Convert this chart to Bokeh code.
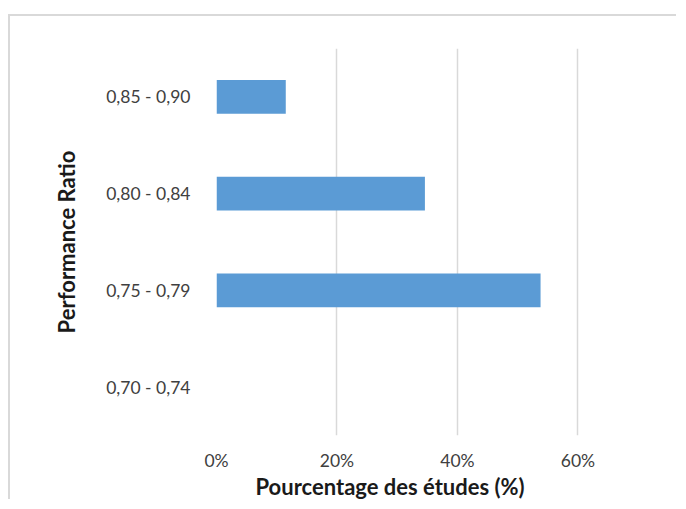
from bokeh.plotting import figure
from bokeh.models import Range1d, FactorRange, Title, FixedTicker
from bokeh.embed import file_html
from bokeh.resources import INLINE

categories = ["0,70 - 0,74", "0,75 - 0,79", "0,80 - 0,84", "0,85 - 0,90"]
percentages = [0.0, 53.8, 34.6, 11.5]
x_ticks = [0, 20, 40, 60]
x_tick_labels = ["0%", "20%", "40%", "60%"]
x_title = "Pourcentage des études (%)"
y_title = "Performance Ratio"

FONT = "Lato"

p = figure(width=668, height=485, output_backend="svg", toolbar_location=None,
           y_range=FactorRange(*categories, range_padding=0), x_range=Range1d(0, 76.7),
           min_border_left=206, min_border_right=0, min_border_top=32, min_border_bottom=66)
p.styles = {"border-top": "2px solid #d9d9d9", "border-left": "2px solid #d9d9d9",
            "margin-top": "14px", "margin-left": "8px"}

p.hbar(y=categories, right=percentages, left=0, height=0.35,
       fill_color="#5b9bd5", line_color=None)

p.outline_line_color = None
p.ygrid.grid_line_color = None
p.xgrid.grid_line_color = "#d9d9d9"
p.xgrid.grid_line_width = 1.5
p.xaxis.ticker = FixedTicker(ticks=x_ticks)
p.xaxis.major_label_overrides = dict(zip(x_ticks, x_tick_labels))

for ax in (p.xaxis, p.yaxis):
    ax.axis_line_color = None
    ax.major_tick_line_color = None
    ax.minor_tick_line_color = None
    ax.major_label_text_font = FONT
    ax.major_label_text_font_size = "17.5px"
    ax.major_label_text_color = "#404040"

p.yaxis.major_label_standoff = 20
p.xaxis.major_label_standoff = 8
p.xaxis.axis_label_standoff = 0
p.yaxis.axis_label = y_title
p.yaxis.axis_label_text_font = FONT
p.yaxis.axis_label_text_font_style = "bold"
p.yaxis.axis_label_text_font_size = "22px"
p.yaxis.axis_label_text_color = "#1a1a1a"
p.yaxis.axis_label_standoff = 23

p.add_layout(Title(text=x_title, align="left", offset=39, standoff=-5,
                   text_font=FONT, text_font_style="bold", text_font_size="22px",
                   text_color="#1a1a1a"), "below")

open("out.html", "w").write(file_html(p, INLINE))
